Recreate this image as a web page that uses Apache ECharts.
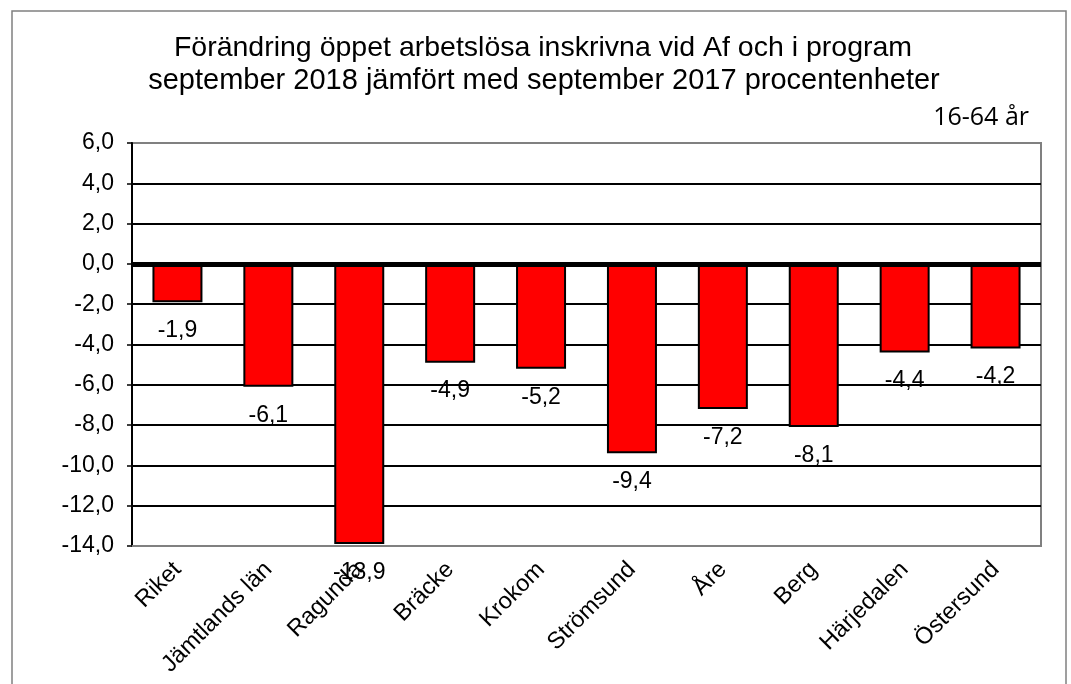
<!DOCTYPE html>
<html><head><meta charset="utf-8">
<script src="https://cdn.jsdelivr.net/npm/echarts@6/dist/echarts.min.js"></script>
<style>html,body{margin:0;padding:0;background:#fff}#c{width:1071px;height:684px}</style>
</head><body><div id="c"></div>
<script>
const categories = ['Riket','Jämtlands län','Ragunda','Bräcke','Krokom','Strömsund','Åre','Berg','Härjedalen','Östersund'];
const values = [-1.9,-6.1,-13.9,-4.9,-5.2,-9.4,-7.2,-8.1,-4.4,-4.2];
const titleLines = ['Förändring öppet arbetslösa inskrivna vid Af och i program','september 2018 jämfört med september 2017 procentenheter'];
const subLabel = '16-64 år';
const yMin = -14, yMax = 6, yStep = 2;

const fmt = v => v.toFixed(1).replace('.', ',');
const gridColors = [];
for (let v = yMin; v <= yMax; v += yStep) gridColors.push((v === yMin || v === yMax) ? '#808080' : '#000');

const chart = echarts.init(document.getElementById('c'), null, {renderer:'canvas'});
chart.setOption({
  animation:false,
  textStyle:{fontFamily:'Liberation Sans, Arial, sans-serif'},
  grid:{left:132, right:30, top:143, bottom:138, show:true, borderColor:'#808080', borderWidth:2, backgroundColor:'#fff'},
  graphic:[
    {type:'rect', shape:{x:12, y:11, width:1054, height:690}, style:{fill:'none', stroke:'#808080', lineWidth:1.5}, z:-1},
    {type:'text', x:543, y:48, style:{text:titleLines[0], font:'28.5px "Liberation Sans"', fill:'#000', textAlign:'center', textVerticalAlign:'middle'}},
    {type:'text', x:544, y:81, style:{text:titleLines[1], font:'29px "Liberation Sans"', fill:'#000', textAlign:'center', textVerticalAlign:'middle'}},
    {type:'text', x:1029, y:118, style:{text:subLabel, font:'25px "Open Sans"', fill:'#000', textAlign:'right', textVerticalAlign:'middle'}}
  ],
  xAxis:{type:'category', data:categories,
    axisLine:{onZero:false, lineStyle:{color:'#808080', width:2}},
    axisTick:{show:false},
    axisLabel:{rotate:45, color:'#000', fontSize:23.5, margin:20, interval:0, fontFamily:'Liberation Sans'}},
  yAxis:{type:'value', min:yMin, max:yMax, interval:yStep,
    axisLine:{show:true, lineStyle:{color:'#000', width:2}},
    axisTick:{show:true, length:5, lineStyle:{color:'#000', width:1.5}},
    axisLabel:{color:'#000', fontSize:23, margin:18, formatter:fmt, fontFamily:'Liberation Sans'},
    splitLine:{show:true, lineStyle:{color:gridColors, width:2}}},
  series:[{type:'bar', data:values, barWidth:50,
    itemStyle:{color:'#ff0000', borderColor:'#000', borderWidth:2},
    label:{show:true, position:'bottom', distance:17, color:'#000', fontSize:23, fontFamily:'Liberation Sans', formatter:p=>fmt(p.value)},
    markLine:{silent:true, symbol:'none', label:{show:false}, lineStyle:{color:'#000', width:5, type:'solid'}, data:[{yAxis:0}]}
  }]
});
</script></body></html>
